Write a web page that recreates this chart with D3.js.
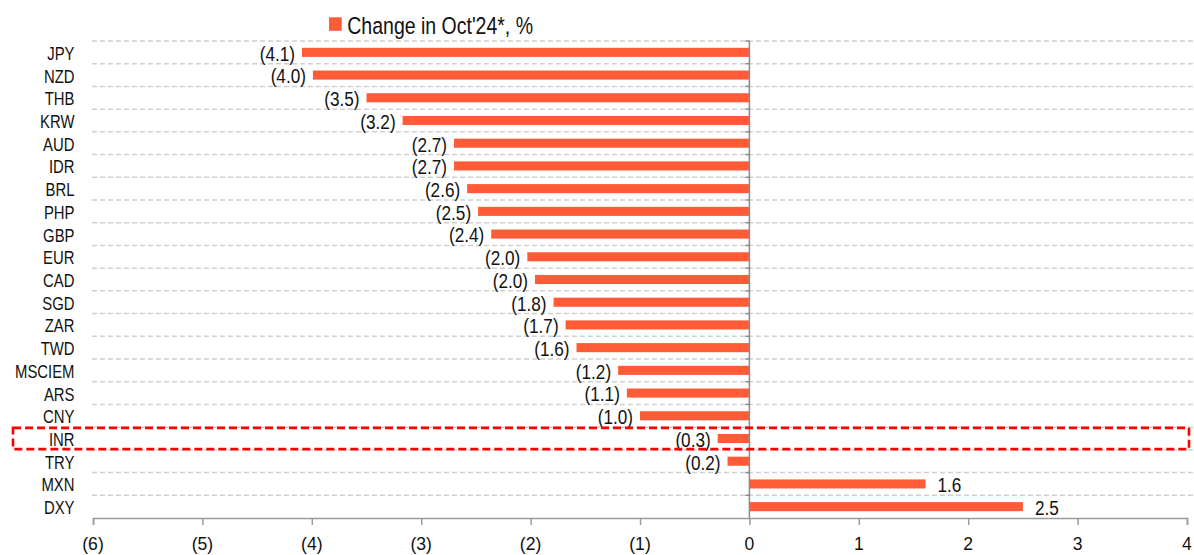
<!DOCTYPE html>
<html>
<head>
<meta charset="utf-8">
<script src="https://cdn.jsdelivr.net/npm/d3@7"></script>
<style>
  html, body { margin: 0; padding: 0; background: #fff; }
  svg { display: block; font-family: "Liberation Sans", Arial, sans-serif; }
</style>
</head>
<body>
<svg id="chart" width="1194" height="555"></svg>
<script>
// ---- Data ----
const categories = ["JPY","NZD","THB","KRW","AUD","IDR","BRL","PHP","GBP","EUR","CAD","SGD","ZAR","TWD","MSCIEM","ARS","CNY","INR","TRY","MXN","DXY"];
const values = [-4.09,-3.99,-3.50,-3.17,-2.70,-2.70,-2.58,-2.48,-2.36,-2.03,-1.96,-1.79,-1.68,-1.58,-1.20,-1.12,-1.00,-0.29,-0.20,1.61,2.50];
const xTicks = [-6,-5,-4,-3,-2,-1,0,1,2,3,4];
const seriesName = "Change in Oct'24*, %";
const highlight = "INR";

const data = categories.map((c, i) => ({ cat: c, val: values[i] }));

const svg = d3.select("#chart");
const barColor = "#FF5B36";
const fmt = v => {
  const s = Math.abs(v).toFixed(1);
  return v < 0 ? "(" + s + ")" : s;
};

const x = d3.scaleLinear().domain([-6, 4]).range([93, 1187]);
const pIn = 0.6;
const y = d3.scaleBand().domain(categories).range([41, 518]).paddingInner(pIn).paddingOuter(pIn / 2);
const step = y.step();
const rowTop = c => y(c) - step * pIn / 2;

// helper to draw horizontally scaled text
function sText(g, tx, ty, txt, size, sx, anchor) {
  const gg = g.append("g").attr("transform", `translate(${tx},${ty}) scale(${sx},1)`);
  gg.append("text")
    .attr("x", 0).attr("y", 0)
    .attr("font-size", size)
    .attr("fill", "#111")
    .attr("text-anchor", anchor)
    .attr("dominant-baseline", "central")
    .text(txt);
  return gg;
}

// gridlines at row boundaries
const grid = svg.append("g");
categories.forEach(c => {
  grid.append("line")
    .attr("x1", 92).attr("x2", 1194)
    .attr("y1", rowTop(c)).attr("y2", rowTop(c))
    .attr("stroke", "#d0d0d0").attr("stroke-width", 1.5)
    .attr("stroke-dasharray", "5,3");
});

// bars
svg.append("g").selectAll("rect").data(data).join("rect")
  .attr("x", d => x(Math.min(0, d.val)))
  .attr("width", d => Math.abs(x(d.val) - x(0)))
  .attr("y", d => y(d.cat))
  .attr("height", y.bandwidth())
  .attr("fill", barColor);

// x axis
const xAxis = d3.axisBottom(x).tickValues(xTicks).tickSize(7).tickFormat("");
const gx = svg.append("g").attr("transform", "translate(0,518)").call(xAxis);
gx.select(".domain").attr("stroke", "#9a9a9a").attr("stroke-width", 1.5);
gx.selectAll(".tick line").attr("stroke", "#9a9a9a").attr("stroke-width", 1.5);
const xl = svg.append("g");
xTicks.forEach(t => {
  sText(xl, x(t), 543.5, t < 0 ? "(" + Math.abs(t) + ")" : String(t), 18.5, 0.95, "middle");
});

// y axis at zero
const yAxisG = svg.append("g");
yAxisG.append("line")
  .attr("x1", x(0)).attr("x2", x(0))
  .attr("y1", 41).attr("y2", 518)
  .attr("stroke", "#8a8a8a").attr("stroke-width", 1.5);
categories.forEach(c => {
  yAxisG.append("line")
    .attr("x1", x(0) - 4).attr("x2", x(0))
    .attr("y1", rowTop(c)).attr("y2", rowTop(c))
    .attr("stroke", "#8a8a8a").attr("stroke-width", 1.5);
});

// category labels
const cl = svg.append("g");
categories.forEach(c => {
  sText(cl, 74.5, y(c) + y.bandwidth() / 2 + 1, c, 17.5, 0.85, "end");
});

// data labels
const dl = svg.append("g");
data.forEach(d => {
  const cy = y(d.cat) + y.bandwidth() / 2 + 1.5;
  if (d.val < 0) sText(dl, x(d.val) - 7, cy, fmt(d.val), 19.5, 0.88, "end");
  else sText(dl, x(d.val) + 12, cy, fmt(d.val), 19.5, 0.88, "start");
});

// highlight box
const hTop = rowTop(highlight);
svg.append("rect")
  .attr("x", 13).attr("y", hTop + 0.7)
  .attr("width", 1189 - 13).attr("height", step - 1.4)
  .attr("fill", "none").attr("stroke", "#FF0000").attr("stroke-width", 2.6)
  .attr("stroke-dasharray", "8,4");

// legend
const lg = svg.append("g");
lg.append("rect").attr("x", 329).attr("y", 17.3).attr("width", 12.7).attr("height", 13.5).attr("fill", barColor);
sText(lg, 347.3, 25.5, seriesName, 23.5, 0.83, "start");
</script>
</body>
</html>
